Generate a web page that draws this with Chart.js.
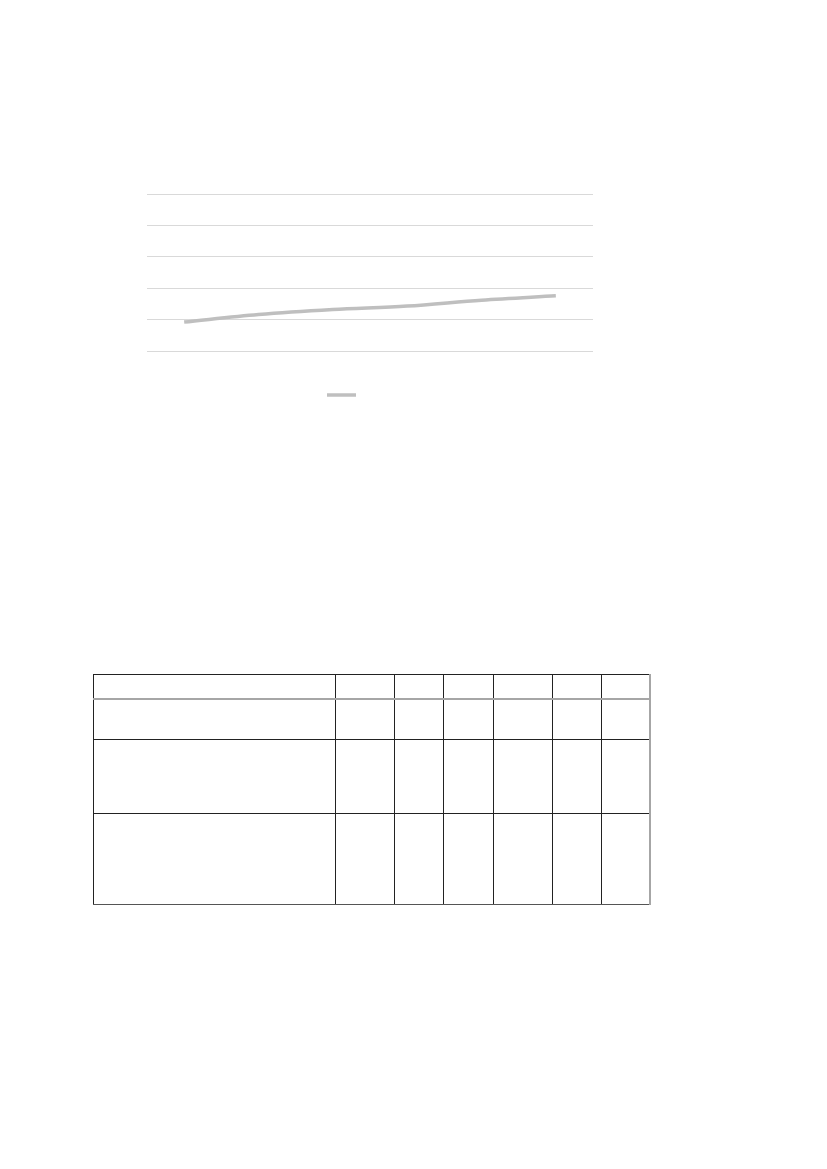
<!DOCTYPE html>
<html>
<head>
<meta charset="utf-8">
<script src="https://cdn.jsdelivr.net/npm/chart.js@4"></script>
<style>
  body { margin: 0; background: #fff; font-family: "Liberation Sans", Arial, sans-serif; }
  #page { position: relative; width: 827px; height: 1169px; }
  #chartBox { position: absolute; left: 96px; top: 160px; width: 497px; height: 251px; }
  #tbl { position: absolute; left: 93px; top: 674px; border-collapse: collapse; }
  #tbl td { border: 1px solid #222; padding: 0; }
  #tbl tr.r2 td { border-top: 2px solid #a6a6a6; }
  #tbl tr.r3 td { border-top: 1px solid #888; }
  #tbl td.c2, #tbl td.c7 { border-left-color: #777; }
  #tbl td.c7 { border-right: 2px solid #a6a6a6; }
  #tbl tr.r4 td { border-bottom: 1px solid #555; }
</style>
</head>
<body>
<div id="page">
  <div id="chartBox"><canvas id="lineChart"></canvas></div>
  <table id="tbl"></table>
</div>
<script>
// data (no labels are printed in it)
const categories = ['', '', '', '', '', ''];
const seriesValues = [0.92, 1.16, 1.32, 1.43, 1.62, 1.76];
const yMin = 0;
const yMax = 5;
const yStep = 1;

const colWidths = [241, 58, 48, 49, 58, 48, 47];
const rowHeights = [23, 39, 73, 90];

function buildTable() {
    const table = document.querySelector('#tbl');
    rowHeights.forEach((h, r) => {
        const tr = document.createElement('tr');
        tr.classList.add('r' + (r + 1));
        colWidths.forEach((w, c) => {
            const td = document.createElement('td');
            td.classList.add('c' + (c + 1));
            td.style.width = w + 'px';
            td.style.height = h + 'px';
            tr.appendChild(td);
        });
        table.appendChild(tr);
    });
}
buildTable();

const ctx = document.getElementById('lineChart').getContext('2d');
new Chart(ctx, {
    type: 'line',
    data: {
        labels: categories,
        datasets: [{
            label: '',
            data: seriesValues,
            borderColor: '#bfbfbf',
            backgroundColor: '#bfbfbf',
            borderWidth: 3.5,
            pointRadius: 0,
            cubicInterpolationMode: 'monotone',
            fill: false
        }]
    },
    options: {
        responsive: true,
        maintainAspectRatio: false,
        animation: false,
        layout: { padding: { left: 0, right: 0, top: 34, bottom: 0 } },
        plugins: {
            legend: {
                position: 'bottom',
                labels: {
                    usePointStyle: true,
                    pointStyle: 'line',
                    pointStyleWidth: 29,
                    padding: 38,
                    font: { size: 12 }
                }
            },
            tooltip: { enabled: false }
        },
        scales: {
            x: {
                offset: true,
                grid: { display: false, drawTicks: false },
                border: { display: false },
                ticks: { display: false }
            },
            y: {
                min: yMin,
                max: yMax,
                ticks: { display: false, stepSize: yStep },
                grid: { color: '#d9d9d9', lineWidth: 1, drawTicks: false },
                border: { display: false },
                afterFit: function(scale) { scale.width = 51; }
            }
        }
    }
});
</script>
</body>
</html>
